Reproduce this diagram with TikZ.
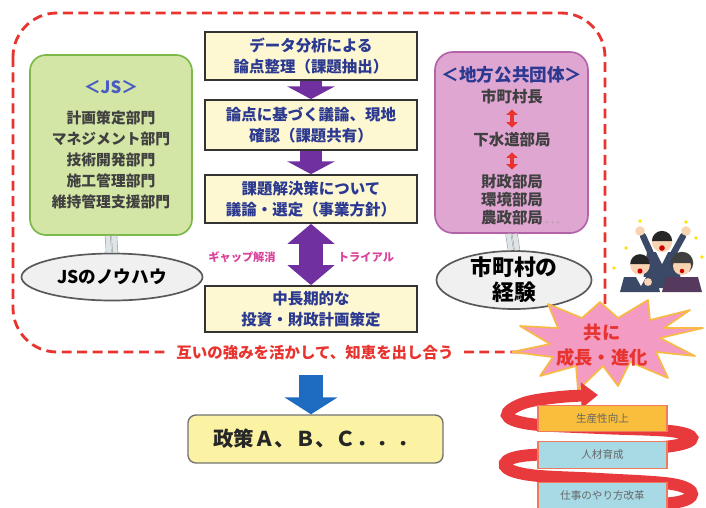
\documentclass[tikz,border=0pt]{standalone}
\usepackage{fontspec}
\setmainfont{Noto Sans CJK JP}
\usetikzlibrary{calc, positioning, arrows.meta, shapes.geometric}

\definecolor{boxcream}{HTML}{FDF8D2}
\definecolor{flowblue}{HTML}{2B3990}
\definecolor{arrowpurple}{HTML}{7030A0}
\definecolor{jsgreen}{HTML}{D3E6A6}
\definecolor{jsgreenline}{HTML}{7DB84A}
\definecolor{jstitle}{HTML}{4A5BC4}
\definecolor{lgpink}{HTML}{DFA6D2}
\definecolor{lgpinkline}{HTML}{B563A8}
\definecolor{dashred}{HTML}{E8332F}
\definecolor{burstpink}{HTML}{F39BC2}
\definecolor{burstline}{HTML}{F7BA45}
\definecolor{policyyellow}{HTML}{FBF2A3}
\definecolor{policyblue}{HTML}{1E6CC2}
\definecolor{gappink}{HTML}{D9439B}
\definecolor{orangebox}{HTML}{F8BE3C}
\definecolor{cyanbox}{HTML}{A8DAE6}
\definecolor{boxsalmon}{HTML}{F07A5E}
\definecolor{ribbonred}{HTML}{E83A3C}
\definecolor{suit}{HTML}{3B4866}
\definecolor{skin}{HTML}{F9D4B2}

\tikzset{
  flowbox/.style={draw=black!80, line width=1.2pt, fill=boxcream, minimum width=5.3cm,
    minimum height=1.2cm, align=center, text=flowblue, font=\fontsize{11}{14.5}\selectfont\bfseries},
  purplearrow/.style={draw=arrowpurple, line width=0.55cm, -{Triangle[width=1.18cm,length=0.32cm]}},
  twoway/.style={draw=arrowpurple, line width=0.6cm,
    {Triangle[width=1.15cm,length=0.5cm]}-{Triangle[width=1.15cm,length=0.5cm]}},
  bluearrow/.style={draw=policyblue, line width=0.6cm, -{Triangle[width=1.3cm,length=0.42cm]}},
  redtwoway/.style={draw=dashred, line width=3pt,
    {Triangle[width=8pt,length=4pt]}-{Triangle[width=8pt,length=4pt]}},
  pipe/.style={draw=gray!75, line width=0.4pt, double=cyan!20!gray!25, double distance=3.4pt},
  knowbubble/.style={ellipse, draw=black!65, line width=1.2pt, fill=gray!12, inner sep=0pt,
    align=center, font=\bfseries},
  ribbonbox/.style={draw=boxsalmon, line width=0.8pt, minimum width=3.225cm, minimum height=0.66cm,
    text=black!60, font=\fontsize{7.5}{9}\selectfont},
  gaplabel/.style={text=gappink, font=\fontsize{8}{9}\selectfont\bfseries},
  lgtext/.style={text=black!75, align=center, font=\fontsize{11}{12.8}\selectfont\bfseries}
}

\begin{document}
\begin{tikzpicture}[x=0.025cm, y=-0.025cm]
  \useasboundingbox (0,0) rectangle (706,508);

  % shared frame
  \draw[dashred, line width=2pt, dash pattern=on 7pt off 4pt, rounded corners=1.1cm]
    (13,13) rectangle (605,352);

  % flow in the middle
  \node[flowbox] (b1) at (311,56) {データ分析による\\論点整理（課題抽出）};
  \node[flowbox, minimum height=1.25cm] (b2) at (311,125) {論点に基づく議論、現地\\確認（課題共有）};
  \node[flowbox] (b3) at (311,199) {課題解決策について\\議論・選定（事業方針）};
  \node[flowbox, minimum height=1.15cm] (b4) at (311,309) {中長期的な\\投資・財政計画策定};
  \draw[purplearrow] (b1) -- (b2);
  \draw[purplearrow] (b2) -- (b3);
  \draw[twoway] (b3) -- (b4);
  \node[gaplabel] (gapl) at (242,257) {ギャップ解消};
  \node[gaplabel] (gapr) at (366,257) {トライアル};

  % JS side
  \node[draw=jsgreenline, line width=1.2pt, fill=jsgreen, rounded corners=0.4cm,
    minimum width=4.05cm, minimum height=4.5cm, align=center, text=black!75,
    font=\fontsize{10.5}{15}\selectfont\bfseries] (js) at (111,145)
    {{\color{jstitle}\fontsize{12}{14}\selectfont ＜JS＞}\\[6pt]
     計画策定部門\\マネジメント部門\\技術開発部門\\施工管理部門\\維持管理支援部門};
  \node[knowbubble, minimum width=4.525cm, minimum height=1.175cm,
    font=\fontsize{12.5}{14}\selectfont\bfseries] (knowhow) at (112,277) {JSのノウハウ};
  \draw[pipe] ([xshift=-2.3pt]js.south) -- ([xshift=-2.3pt]knowhow.north);
  \draw[pipe] ([xshift=2.3pt]js.south) -- ([xshift=2.3pt]knowhow.north);

  % local government side
  \node[draw=lgpinkline, line width=1.2pt, fill=lgpink, rounded corners=0.45cm,
    minimum width=3.825cm, minimum height=4.525cm] (lg) at (511.5,142.5) {};
  \node[text=flowblue, font=\fontsize{12.5}{14}\selectfont\bfseries] (lgtitle) at (512,75) {＜地方公共団体＞};
  \node[lgtext] (mayor) at (512,97) {市町村長};
  \node[lgtext] (sewer) at (512,140) {下水道部局};
  \node[lgtext] (depts) at (512,200)
    {財政部局\\環境部局\\農政部局\rlap{\color{gray!80}\mdseries\fontsize{8}{9}\selectfont\ .\ .\ .}};
  \draw[redtwoway] (mayor) -- (sewer);
  \draw[redtwoway] (sewer) -- (depts);
  \node[knowbubble, minimum width=3.875cm, minimum height=1.45cm, inner ysep=-6pt,
    font=\fontsize{15.5}{18}\selectfont\bfseries] (exp) at (514,280) {市町村の\\経験};
  \draw[pipe] ([xshift=-2.3pt]lg.south) -- ([xshift=-2.3pt]exp.north);
  \draw[pipe] ([xshift=2.3pt]lg.south) -- ([xshift=2.3pt]exp.north);

  % slogan on the frame
  \node[fill=white, inner xsep=0.25cm, text=dashred, font=\fontsize{11}{13}\selectfont\bfseries]
    (slogan) at (315,353) {互いの強みを活かして、知恵を出し合う};

  % policy
  \coordinate (bluetop) at (311,375);
  \node[draw=black!55, line width=1pt, fill=policyyellow, rounded corners=0.2cm,
    minimum width=6.375cm, minimum height=1.2cm, text=black!85,
    font=\fontsize{14.5}{16}\selectfont\bfseries] (policy) at (315.5,439) {政策Ａ、Ｂ、Ｃ．．．};
  \draw[bluearrow] (bluetop) -- (bluetop |- policy.north);

  % cheering staff
  \foreach \p in {(640,221),(686,222),(626,248),(702,257),(614,268),(696,238)}
    \fill[yellow!85!orange] \p circle (1.3pt);
  \draw[suit, line width=4.5pt, line cap=round] (652,256) -- (643,236);
  \draw[suit, line width=4.5pt, line cap=round] (672,256) -- (683,236);
  \fill[skin] (640,231) circle (3.4pt) (686,231) circle (3.4pt);
  \fill[suit] (647,252) -- (677,252) -- (682,288) -- (642,288) -- cycle;
  \fill[white] (656,252) -- (668,252) -- (662,264) -- cycle;
  \fill[skin] (662,242) circle (7.2pt);
  \fill[black!85] (662,241) ++(-10.1,0) arc[start angle=180, end angle=0, radius=7.2pt] -- cycle;
  \fill[red!80!black] (662,248) circle (2pt);
  % woman on the right
  \fill[black!75] (682,263) circle (8pt);
  \fill[suit!80!purple] (666,277) -- (698,277) -- (702,292) -- (662,292) -- cycle;
  \fill[skin] (682,266) circle (6.4pt);
  \fill[black!75] (682,263) ++(-9,0) arc[start angle=180, end angle=0, radius=6.4pt] -- cycle;
  \fill[red!80!black] (682,271) circle (1.6pt);
  % man on the left
  \fill[suit] (624,277) -- (656,277) -- (660,292) -- (620,292) -- cycle;
  \fill[white] (636,277) -- (646,277) -- (641,286) -- cycle;
  \fill[skin] (640,265) circle (7pt);
  \fill[black!85] (640,264) ++(-9.8,0) arc[start angle=180, end angle=0, radius=7pt] -- cycle;
  \fill[red!80!black] (640,271) circle (1.8pt);
  \fill[skin] (648,282) circle (2.8pt);

  % starburst
  \filldraw[fill=burstpink, draw=burstline, line width=1.2pt, line join=round]
    (703,328) -- (660,338) -- (695,356) -- (656,352) -- (668,378) -- (630,362)
    -- (618,386) -- (603,366) -- (578,390) -- (576,366) -- (540,376) -- (553,357)
    -- (512,352) -- (550,344) -- (520,326) -- (558,328) -- (548,304) -- (582,318)
    -- (600,302) -- (618,318) -- (648,300) -- (650,320) -- (690,310) -- (664,328) -- cycle;
  \node[text=dashred, align=center, font=\fontsize{13}{18}\selectfont\bfseries]
    (grow) at (602,345) {共に\\成長・進化};

  % spiral ribbon
  \draw[ribbonred, line width=0.3cm, -{Triangle[width=0.62cm,length=0.42cm]}]
    plot[smooth, tension=0.6] coordinates {(600,506) (672,503) (692,494) (672,484) (600,479)
      (530,475) (505,466) (522,456) (600,452) (672,446) (692,438) (670,431) (600,428)
      (530,424) (507,415) (524,403) (560,397) (598,395)};
  \node[ribbonbox, fill=orangebox] (r1) at (602.5,418.5) {生産性向上};
  \node[ribbonbox, fill=cyanbox] (r2) at (602.5,455) {人材育成};
  \node[ribbonbox, fill=cyanbox] (r3) at (602.5,495.5) {仕事のやり方改革};
\end{tikzpicture}
\end{document}
